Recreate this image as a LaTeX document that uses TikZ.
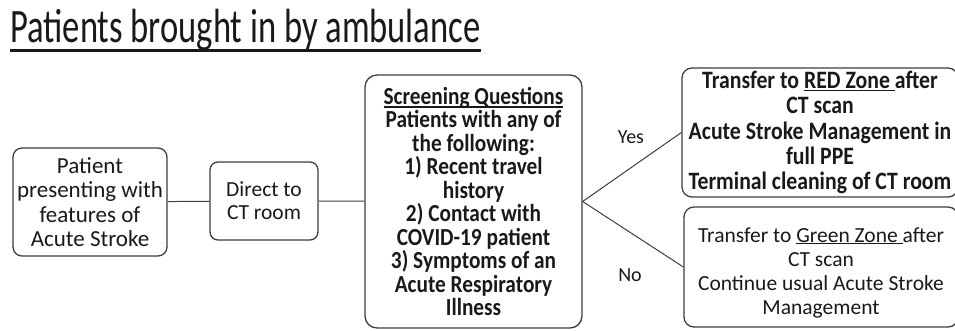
\documentclass[tikz,border=0pt]{standalone}
\usepackage{fontspec}
\setmainfont{Carlito}
\newfontfamily\titlefont[FakeStretch=0.72]{Carlito}
\newfontfamily\tallfont[FakeStretch=0.87]{Carlito}
\definecolor{boxgray}{RGB}{62,62,62}
\definecolor{inkgray}{RGB}{25,25,25}
\newcommand{\zoneul}[2][0.1em]{\setbox0=\hbox{#2}\rlap{\rule[-#1]{\wd0}{0.05em}}\box0}
\tikzset{%
  stepbox/.style={draw=boxgray, line width=1.3pt, rounded corners=9pt,
                  align=center, inner sep=0pt, text=inkgray},
  link/.style={draw=boxgray, line width=1pt},
  answer/.style={text=inkgray, font=\fontsize{20}{22}\selectfont},
}

\begin{document}
\begin{tikzpicture}[x=1pt,y=-1pt]
  \useasboundingbox (0,0) rectangle (955,331);
  \clip (0,0) rectangle (955,331);
  \node[anchor=base west, text=inkgray, inner sep=0pt,
        font=\titlefont\fontsize{48}{50}\selectfont] (title) at (10,43)
        {\zoneul[0.18em]{Patients brought in by ambulance}};
  \node[stepbox, minimum width=154pt, minimum height=108pt,
        font=\fontsize{23}{24.5}\selectfont] (patient) at (90,202)
        {Patient\\presenting with\\features of\\Acute Stroke};
  \node[stepbox, rounded corners=8pt, minimum width=108pt, minimum height=78pt,
        font=\fontsize{21.5}{23}\selectfont] (directct) at (264,201)
        {Direct to\\CT room};
  \node[stepbox, rounded corners=12pt, minimum width=217pt, minimum height=253pt,
        font=\tallfont\bfseries\fontsize{24.5}{23.5}\selectfont] (screen) at (473.5,201.5)
        {\zoneul[0.14em]{Screening Questions}\\Patients with any of\\the following:\\
         1) Recent travel\\history\\2) Contact with\\COVID-19 patient\\
         3) Symptoms of an\\Acute Respiratory\\Illness};
  \node[stepbox, rounded corners=10pt, minimum width=276pt, minimum height=129pt,
        font=\tallfont\bfseries\fontsize{25}{25.3}\selectfont] (redzone) at (820,132.5)
        {Transfer to \zoneul{RED Zone\ }after\\CT scan\\Acute Stroke Management in\\
         full PPE\\Terminal cleaning of CT room};
  \node[stepbox, rounded corners=10pt, minimum width=274pt, minimum height=120pt,
        font=\fontsize{21.5}{24}\selectfont] (greenzone) at (821,267)
        {\rule{0pt}{1.2em}Transfer to \zoneul{Green Zone\ }after\\CT scan\\
         Continue usual Acute Stroke\\Management};
  \coordinate (fork) at (screen.east);
  \draw[link] (patient) -- (directct);
  \draw[link] (directct) -- (screen);
  \draw[link] (fork) -- (redzone.west);
  \draw[link] (fork) -- (greenzone.west);
  \node[answer] (yes) at (631,137) {Yes};
  \node[answer] (no) at (630,275) {No};
\end{tikzpicture}
\end{document}
